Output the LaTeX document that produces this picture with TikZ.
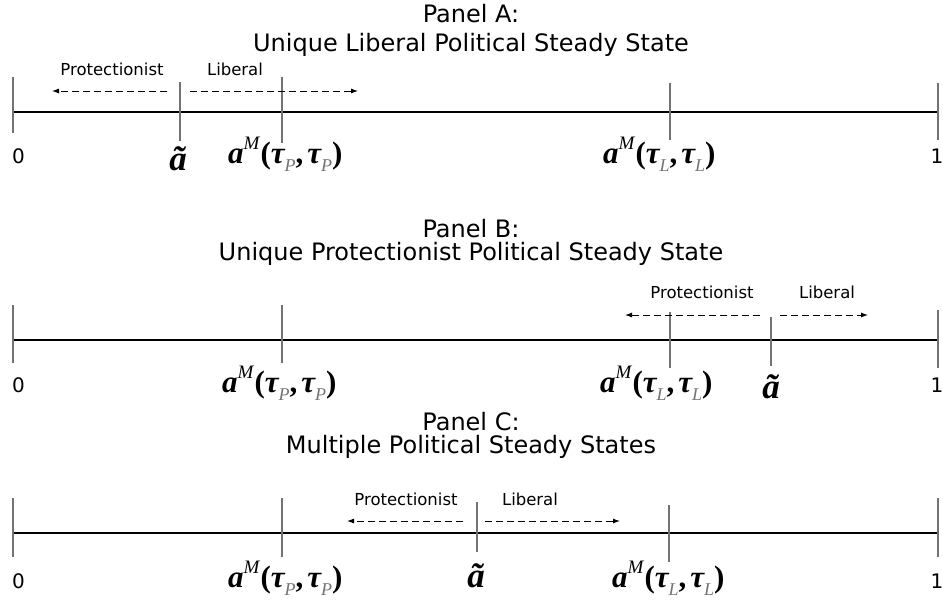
\documentclass[tikz,border=0pt]{standalone}
\usepackage{fontspec}
\setmainfont{DejaVu Sans}
\newfontfamily\tms{Liberation Serif}
\usetikzlibrary{arrows.meta}
\definecolor{tickgray}{gray}{0.45}
\definecolor{subgray}{gray}{0.45}
\newcommand{\subl}[1]{\raisebox{-0.28em}{\fontsize{18}{18}\selectfont\color{subgray}\tms\itshape #1}}
\newcommand{\amlab}[1]{{\tms\bfseries\itshape a}\raisebox{0.42em}{\fontsize{19}{19}\selectfont\tms\itshape M}\kern1pt{\tms\bfseries (}{\tms\bfseries\itshape τ}\subl{#1}{\tms\bfseries ,}\kern4pt{\tms\bfseries\itshape τ}\subl{#1}{\tms\bfseries )}}
\newcommand{\atil}{{\tms\bfseries\itshape ã}}
\tikzset{
  x=1pt, y=-1pt,
  axisline/.style={line width=2.6pt, black},
  tickline/.style={line width=1.1pt, tickgray},
  darrow/.style={line width=0.9pt, dash pattern=on 7pt off 4pt, -{Latex[length=7pt,width=5pt]}},
  ttl/.style={anchor=base, inner sep=0pt, font=\fontsize{24}{26}\selectfont},
  dirlab/.style={anchor=base, inner sep=0pt, font=\fontsize{16.5}{18}\selectfont},
  numlab/.style={anchor=base, inner sep=0pt, font=\fontsize{20}{22}\selectfont},
  mlab/.style={anchor=base west, inner sep=0pt, font=\fontsize{31}{33}\selectfont},
  tlab/.style={anchor=base, inner sep=0pt, font=\fontsize{35}{37}\selectfont},
}
\begin{document}
\begin{tikzpicture}
\useasboundingbox (0,0) rectangle (943,605);
% ================= Panel A =================
\node[ttl] (tA1) at (471,23) {Panel A:};
\node[ttl] (tA2) at (471,51) {Unique Liberal Political Steady State};
\coordinate (Al) at (13,112); \coordinate (Ar) at (938,112);
\draw[axisline] (Al) -- (Ar);
\coordinate (A0t) at (13,77);  \coordinate (A0b) at (13,133);
\coordinate (Aat) at (180,82); \coordinate (Aab) at (180,141);
\coordinate (APt) at (282,77); \coordinate (APb) at (282,143);
\coordinate (ALt) at (670,83); \coordinate (ALb) at (670,140);
\coordinate (A1t) at (938,83); \coordinate (A1b) at (938,140);
\foreach \t/\b in {A0t/A0b, Aat/Aab, APt/APb, ALt/ALb, A1t/A1b} \draw[tickline] (\t) -- (\b);
\coordinate (Aps) at (167,91); \coordinate (Ape) at (52,91);
\coordinate (Als) at (190,91); \coordinate (Ale) at (358,91);
\draw[darrow] (Aps) -- (Ape);
\draw[darrow] (Als) -- (Ale);
\node[dirlab] (Aprot) at (112,75) {Protectionist};
\node[dirlab] (Alib) at (235,75) {Liberal};
\node[numlab, anchor=base west] (A0) at (12,163) {0};
\node[tlab] (Aatil) at (178,170) {\atil};
\node[mlab] (AaP) at (228,163) {\amlab{P}};
\node[mlab] (AaL) at (603,163) {\amlab{L}};
\node[numlab] (A1) at (937,163) {1};
% ================= Panel B =================
\node[ttl] (tB1) at (471,237) {Panel B:};
\node[ttl] (tB2) at (471,260) {Unique Protectionist Political Steady State};
\coordinate (Bl) at (13,340); \coordinate (Br) at (938,340);
\draw[axisline] (Bl) -- (Br);
\coordinate (B0t) at (13,305);  \coordinate (B0b) at (13,363);
\coordinate (BPt) at (282,305); \coordinate (BPb) at (282,363);
\coordinate (BLt) at (670,312); \coordinate (BLb) at (670,368);
\coordinate (Bat) at (771,317); \coordinate (Bab) at (771,366);
\coordinate (B1t) at (938,310); \coordinate (B1b) at (938,368);
\foreach \t/\b in {B0t/B0b, BPt/BPb, BLt/BLb, Bat/Bab, B1t/B1b} \draw[tickline] (\t) -- (\b);
\coordinate (Bps) at (760,315); \coordinate (Bpe) at (625,315);
\coordinate (Bls) at (780,315); \coordinate (Ble) at (868,315);
\draw[darrow] (Bps) -- (Bpe);
\draw[darrow] (Bls) -- (Ble);
\node[dirlab] (Bprot) at (702,298) {Protectionist};
\node[dirlab] (Blib) at (827,298) {Liberal};
\node[numlab, anchor=base west] (B0) at (12,392) {0};
\node[mlab] (BaP) at (222,392) {\amlab{P}};
\node[mlab] (BaL) at (600,392) {\amlab{L}};
\node[tlab] (Batil) at (771,398) {\atil};
\node[numlab] (B1) at (937,392) {1};
% ================= Panel C =================
\node[ttl] (tC1) at (471,430) {Panel C:};
\node[ttl] (tC2) at (471,453) {Multiple Political Steady States};
\coordinate (Cl) at (13,533); \coordinate (Cr) at (938,533);
\draw[axisline] (Cl) -- (Cr);
\coordinate (C0t) at (13,498);  \coordinate (C0b) at (13,557);
\coordinate (CPt) at (282,498); \coordinate (CPb) at (282,557);
\coordinate (Cat) at (477,502); \coordinate (Cab) at (477,552);
\coordinate (CLt) at (669,505); \coordinate (CLb) at (669,562);
\coordinate (C1t) at (938,498); \coordinate (C1b) at (938,557);
\foreach \t/\b in {C0t/C0b, CPt/CPb, Cat/Cab, CLt/CLb, C1t/C1b} \draw[tickline] (\t) -- (\b);
\coordinate (Cps) at (463,521); \coordinate (Cpe) at (347,521);
\coordinate (Cls) at (485,521); \coordinate (Cle) at (620,521);
\draw[darrow] (Cps) -- (Cpe);
\draw[darrow] (Cls) -- (Cle);
\node[dirlab] (Cprot) at (406,505) {Protectionist};
\node[dirlab] (Clib) at (530,505) {Liberal};
\node[numlab, anchor=base west] (C0) at (12,588) {0};
\node[mlab] (CaP) at (228,587) {\amlab{P}};
\node[tlab] (Catil) at (476,587) {\atil};
\node[mlab] (CaL) at (612,587) {\amlab{L}};
\node[numlab] (C1) at (937,588) {1};
\end{tikzpicture}
\end{document}
